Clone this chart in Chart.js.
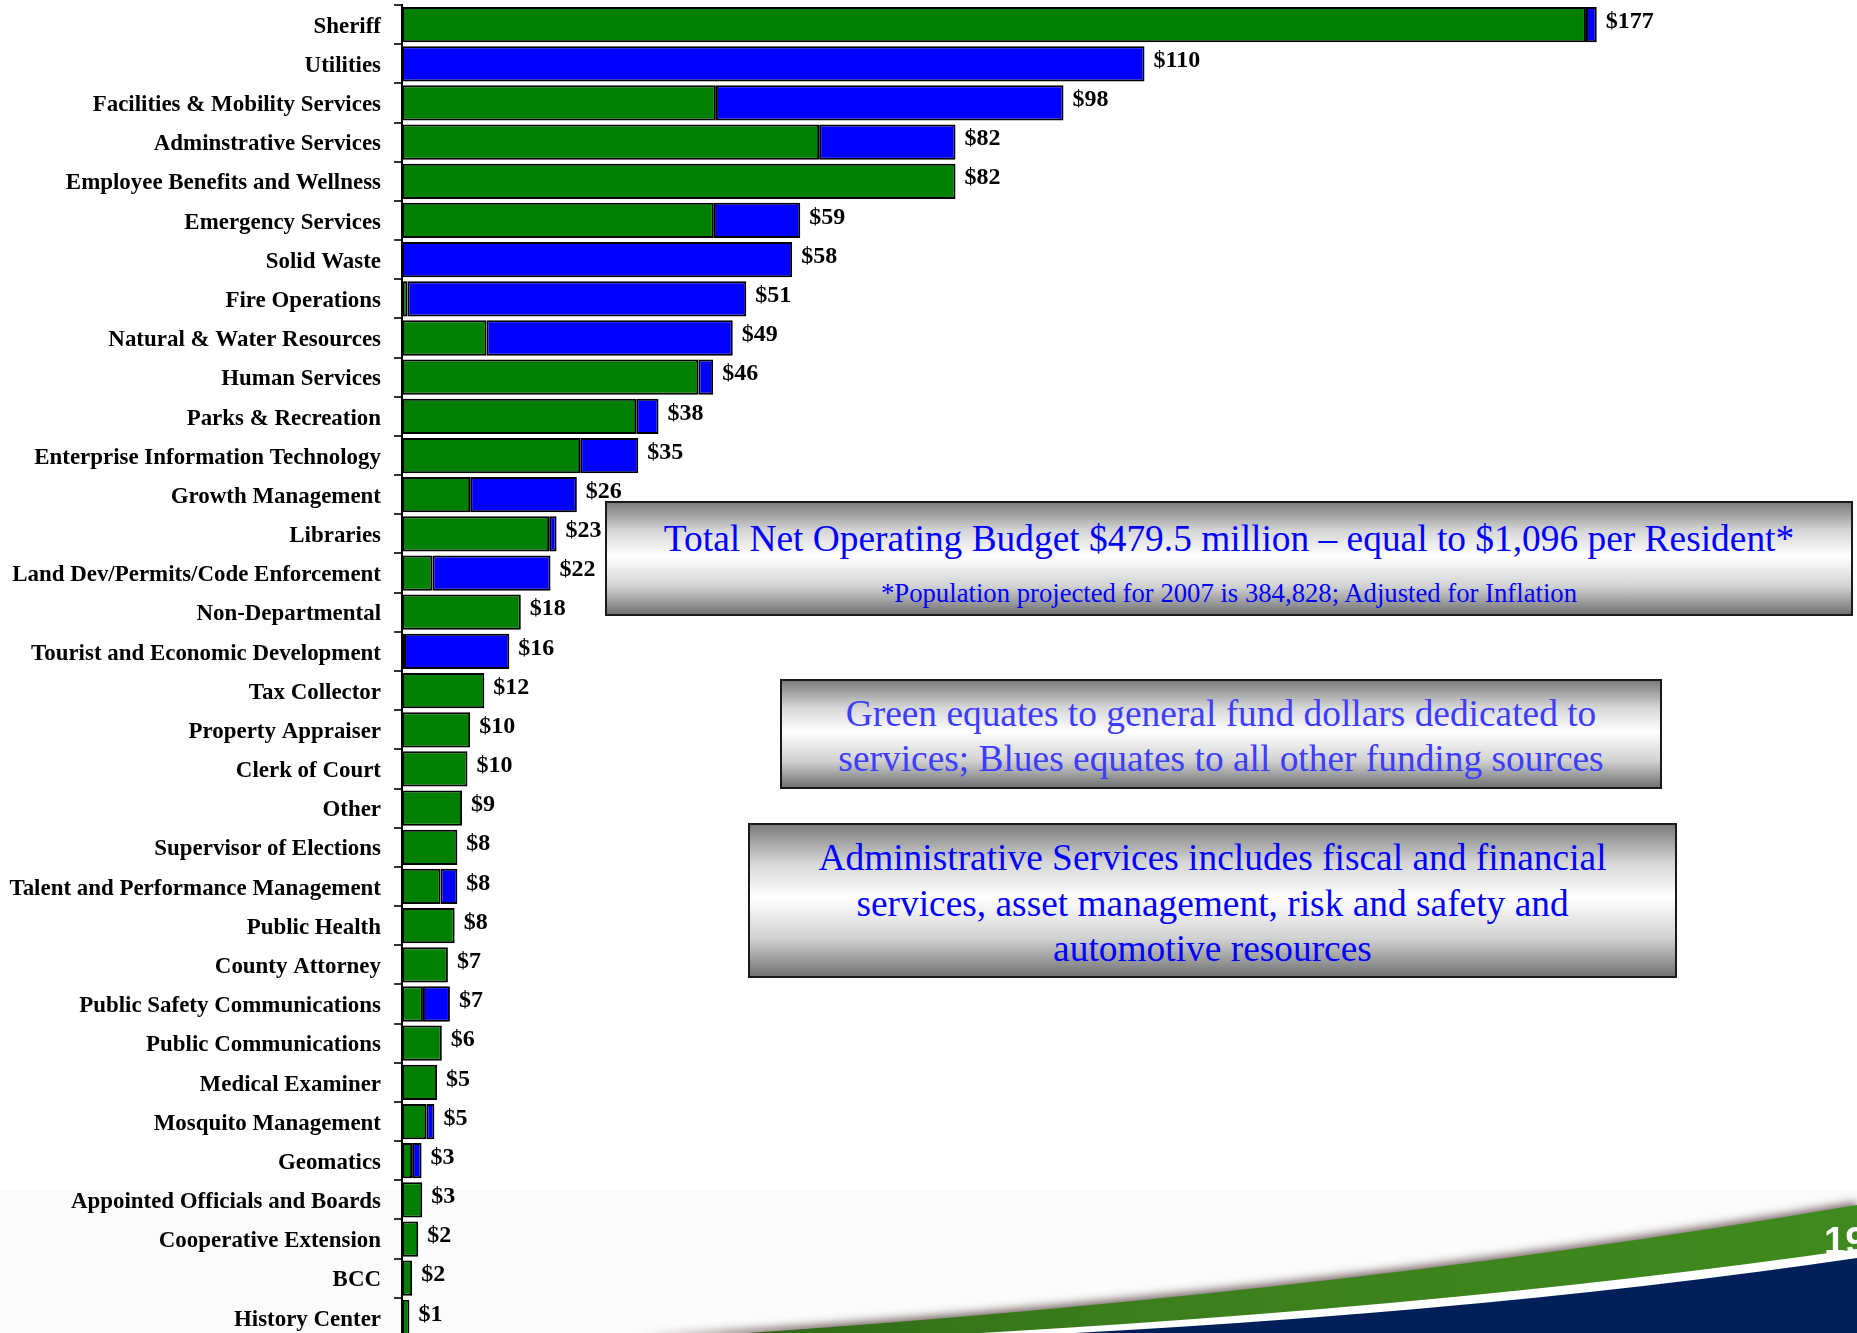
<!DOCTYPE html>
<html>
<head>
<meta charset="utf-8">
<title>Net Operating Budget by Department</title>
<script src="https://cdn.jsdelivr.net/npm/chart.js@4.4.1/dist/chart.umd.min.js"></script>
<style>
    html, body { margin: 0; padding: 0; background: #fff; overflow: hidden; }
    #main-container { position: relative; width: 1857px; height: 1340px; }
    .note-box {
        position: absolute;
        box-sizing: border-box;
        border: 2px solid #1a1a1a;
        background: linear-gradient(to bottom, #7c7c7c 0%, #d6d6d6 25%, #ffffff 48%, #d2d2d2 75%, #727272 100%);
        font-family: "Liberation Serif", "Times New Roman", serif;
        color: #0000ff;
        text-align: center;
    }
    .note-box div { position: absolute; left: 0; right: 0; white-space: nowrap; }
</style>
</head>
<body>
<div id="main-container">
    <canvas id="budget-chart"></canvas>

    <div class="note-box" style="left:605px; top:501px; width:1248px; height:115px;">
        <div style="top:13px; font-size:37.4px; line-height:46px;">Total Net Operating Budget $479.5 million &ndash; equal to $1,096 per Resident*</div>
        <div style="top:74px; font-size:26.7px; line-height:32px;">*Population projected for 2007 is 384,828; Adjusted for Inflation</div>
    </div>

    <div class="note-box" style="left:780px; top:679px; width:882px; height:110px; color:#3c3cff;">
        <div style="top:10px; font-size:37.4px; line-height:46px;">Green equates to general fund dollars dedicated to</div>
        <div style="top:55px; font-size:37.4px; line-height:46px;">services; Blues equates to all other funding sources</div>
    </div>

    <div class="note-box" style="left:748px; top:823px; width:929px; height:155px;">
        <div style="top:10px; font-size:37.4px; line-height:46px;">Administrative Services includes fiscal and financial</div>
        <div style="top:56px; font-size:37.4px; line-height:46px;">services, asset management, risk and safety and</div>
        <div style="top:101px; font-size:37.4px; line-height:46px;">automotive resources</div>
    </div>
</div>

<script>
(function () {

    "use strict";

    // Departments, top to bottom
    var departments = [
        'Sheriff',
        'Utilities',
        'Facilities & Mobility Services',
        'Adminstrative Services',
        'Employee Benefits and Wellness',
        'Emergency Services',
        'Solid Waste',
        'Fire Operations',
        'Natural & Water Resources',
        'Human Services',
        'Parks & Recreation',
        'Enterprise Information Technology',
        'Growth Management',
        'Libraries',
        'Land Dev/Permits/Code Enforcement',
        'Non-Departmental',
        'Tourist and Economic Development',
        'Tax Collector',
        'Property Appraiser',
        'Clerk of Court',
        'Other',
        'Supervisor of Elections',
        'Talent and Performance Management',
        'Public Health',
        'County Attorney',
        'Public Safety Communications',
        'Public Communications',
        'Medical Examiner',
        'Mosquito Management',
        'Geomatics',
        'Appointed Officials and Boards',
        'Cooperative Extension',
        'BCC',
        'History Center'
    ];

    // General fund dollars (millions) - green
    var generalFund = [
        175.4, 0, 46.5, 61.8, 82.0, 46.2, 0, 0.8, 12.5, 43.9,
        34.7, 26.4, 10.1, 21.8, 4.5, 17.6, 0.3, 12.2, 10.1, 9.7,
        8.9, 8.2, 5.7, 7.8, 6.8, 3.1, 5.9, 5.2, 3.6, 1.5,
        3.0, 2.4, 1.5, 1.1
    ];

    // All other funding sources (millions) - blue
    var otherFunds = [
        1.6, 110.0, 51.5, 20.2, 0, 12.8, 57.8, 50.2, 36.5, 2.2,
        3.3, 8.6, 15.8, 1.1, 17.5, 0, 15.6, 0, 0, 0,
        0, 0, 2.5, 0, 0, 4.0, 0, 0, 1.2, 1.4,
        0, 0, 0, 0
    ];

    var FONT_SERIF = '"Liberation Serif", "Times New Roman", serif';

    /**
     * Total per department, used for the "$nn" label at the end of each bar
     */
    function totalFor(index) {
        return generalFund[index] + otherFunds[index];
    }

    /**
     * Department names left of the axis, drawn slightly narrowed so the
     * long names fit in the left margin
     */
    var departmentLabelPlugin = {
        id: 'departmentLabel',
        afterDraw: function (chart) {
            var ctx = chart.ctx;
            var yScale = chart.scales.y;
            var right = yScale.right - 21;
            ctx.save();
            ctx.fillStyle = '#000';
            ctx.font = 'bold 24px ' + FONT_SERIF;
            ctx.textAlign = 'right';
            ctx.textBaseline = 'middle';
            chart.data.labels.forEach(function (name, i) {
                ctx.save();
                ctx.translate(right, yScale.getPixelForValue(i) + 2);
                ctx.scale(0.955, 1);
                ctx.fillText(name, 0, 0);
                ctx.restore();
            });
            ctx.restore();
        }
    };

    /**
     * Draws the "$nn" label right after the end of each stacked bar
     */
    var totalsLabelPlugin = {
        id: 'totalsLabel',
        afterDatasetsDraw: function (chart) {
            var ctx = chart.ctx;
            var meta = chart.getDatasetMeta(chart.data.datasets.length - 1);
            var xScale = chart.scales.x;
            ctx.save();
            ctx.fillStyle = '#000';
            ctx.font = 'bold 24px ' + FONT_SERIF;
            ctx.textAlign = 'left';
            ctx.textBaseline = 'middle';
            meta.data.forEach(function (bar, i) {
                var total = totalFor(i);
                var x = xScale.getPixelForValue(total) + 9;
                ctx.fillText('$' + Math.round(total), x, bar.y - 3);
            });
            ctx.restore();
        }
    };

    /**
     * Slide footer: off-white band and the green / navy swoosh with page number
     */
    var slideFooterPlugin = {
        id: 'slideFooter',
        beforeDraw: function (chart) {
            var ctx = chart.ctx;
            var w = chart.width;
            var h = chart.height;
            ctx.save();

            ctx.fillStyle = '#fbfbfb';
            ctx.fillRect(0, 1190, w, h - 1190);

            // green band with a soft shadow on its upper edge
            ctx.save();
            ctx.shadowColor = 'rgba(70, 45, 45, 0.75)';
            ctx.shadowBlur = 10;
            ctx.shadowOffsetY = -3;
            ctx.beginPath();
            ctx.moveTo(640, h);
            ctx.quadraticCurveTo(1300, 1300, w, 1205);
            ctx.lineTo(w, h);
            ctx.closePath();
            var green = ctx.createLinearGradient(640, 0, w, 0);
            green.addColorStop(0, '#2c6214');
            green.addColorStop(0.4, '#3b7f1c');
            green.addColorStop(1, '#3f8a1e');
            ctx.fillStyle = green;
            ctx.fill();
            ctx.restore();

            // white gap between the green band and the navy area
            ctx.beginPath();
            ctx.moveTo(850, h);
            ctx.quadraticCurveTo(1420, 1312, w, 1249);
            ctx.lineTo(w, h);
            ctx.closePath();
            ctx.fillStyle = '#ffffff';
            ctx.fill();

            // navy area
            ctx.beginPath();
            ctx.moveTo(930, h);
            ctx.quadraticCurveTo(1450, 1318, w, 1258);
            ctx.lineTo(w, h);
            ctx.closePath();
            ctx.fillStyle = '#01205a';
            ctx.fill();

            // page number
            ctx.fillStyle = '#ffffff';
            ctx.font = 'bold 38px "Liberation Sans", Arial, sans-serif';
            ctx.textAlign = 'left';
            ctx.textBaseline = 'alphabetic';
            ctx.fillText('19', 1824, 1254);

            ctx.restore();
        }
    };

    function createChart(ctx) {
        return new Chart(ctx, {
            type: 'bar',
            data: {
                labels: departments,
                datasets: [{
                    label: 'General Fund',
                    data: generalFund,
                    backgroundColor: '#008000',
                    borderColor: '#000000',
                    borderWidth: 2,
                    borderSkipped: false,
                    barPercentage: 0.9,
                    categoryPercentage: 1.0
                }, {
                    label: 'Other Funding Sources',
                    data: otherFunds,
                    backgroundColor: '#0000ff',
                    borderColor: '#000000',
                    borderWidth: 2,
                    borderSkipped: false,
                    barPercentage: 0.9,
                    categoryPercentage: 1.0
                }]
            },
            options: {
                indexAxis: 'y',
                responsive: true,
                maintainAspectRatio: false,
                animation: false,
                layout: {
                    padding: { top: 5, right: 105, bottom: 3, left: 0 }
                },
                plugins: {
                    legend: { display: false },
                    tooltip: { enabled: false }
                },
                scales: {
                    x: {
                        display: false,
                        stacked: true,
                        min: 0,
                        max: 200
                    },
                    y: {
                        stacked: true,
                        afterFit: function (scale) {
                            scale.width = 402;
                        },
                        border: { display: true, color: '#000', width: 2 },
                        grid: {
                            offset: true,
                            drawOnChartArea: false,
                            drawTicks: true,
                            tickLength: 8,
                            color: '#333',
                            lineWidth: 2
                        },
                        ticks: {
                            display: false,
                            autoSkip: false
                        }
                    }
                }
            },
            plugins: [slideFooterPlugin, totalsLabelPlugin, departmentLabelPlugin]
        });
    }

    createChart(document.getElementById('budget-chart').getContext('2d'));

})();
</script>
</body>
</html>
